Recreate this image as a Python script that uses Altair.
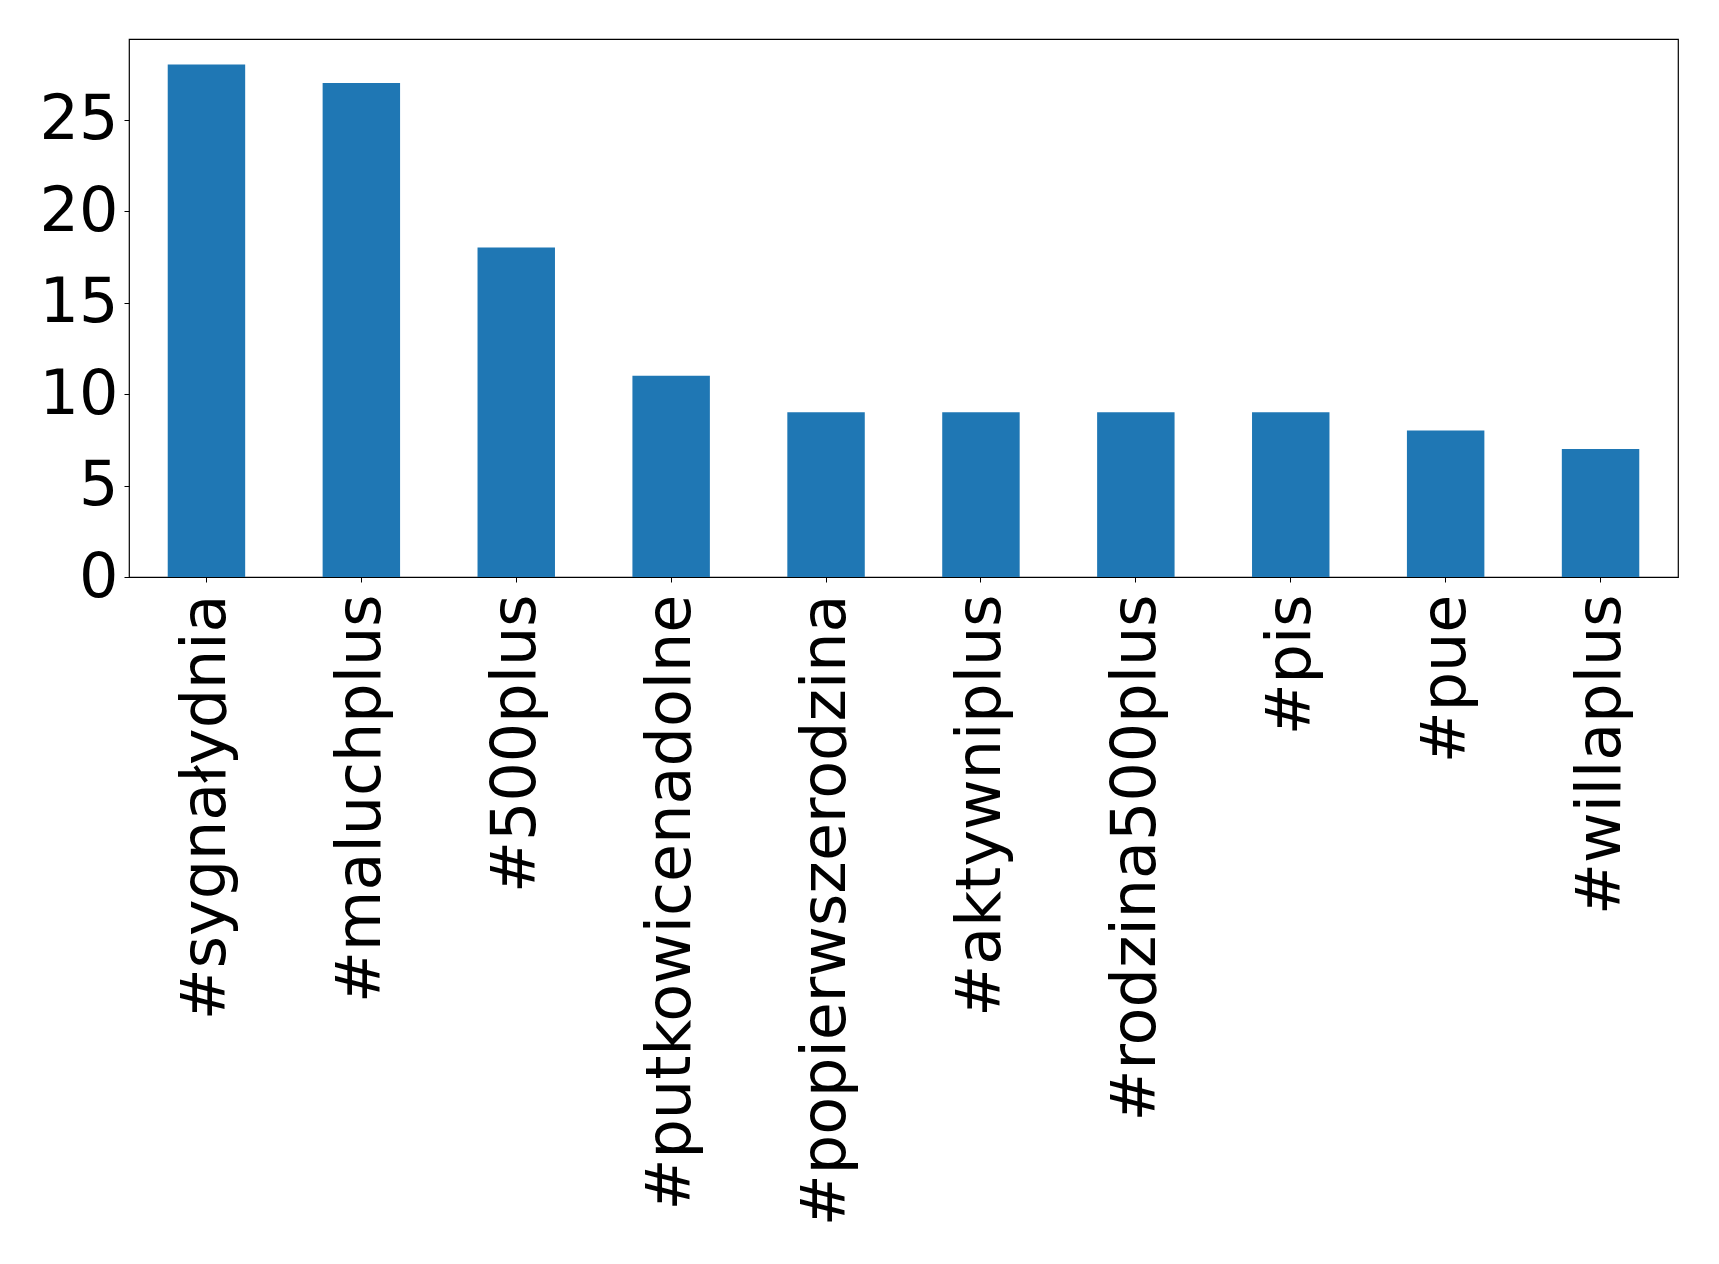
import altair as alt
import pandas as pd

tags = ["#sygnałydnia", "#maluchplus", "#500plus", "#putkowicenadolne",
        "#popierwszerodzina", "#aktywniplus", "#rodzina500plus", "#pis",
        "#pue", "#willaplus"]
counts = [28, 27, 18, 11, 9, 9, 9, 9, 8, 7]
y_ticks = [0, 5, 10, 15, 20, 25]

df = pd.DataFrame({"tag": tags, "count": counts})

chart = alt.Chart(df).mark_bar(color="#1f77b4").encode(
    x=alt.X("tag:N", sort=None, title=None,
            scale=alt.Scale(paddingInner=0.5, paddingOuter=0.25),
            axis=alt.Axis(labelAngle=-90, labelAlign="right", labelBaseline="middle",
                          labelFontSize=62, labelFont="DejaVu Sans", labelColor="black",
                          labelPadding=12, tickSize=5, tickColor="black", domain=False,
                          labelOverlap=False, labelLimit=0)),
    y=alt.Y("count:Q", title=None,
            scale=alt.Scale(domain=[0, 29.4], nice=False, zero=True),
            axis=alt.Axis(values=y_ticks, grid=False, labelFontSize=62,
                          labelFont="DejaVu Sans", labelColor="black", labelPadding=6,
                          tickSize=5, tickColor="black", domain=False)),
).properties(
    width=1549, height=538,
    autosize=alt.AutoSizeParams(type="none"),
    padding={"left": 121, "top": 31, "right": 30, "bottom": 660},
).configure_view(stroke="black", strokeWidth=1.2)

chart.save("out.html", embed_options={"renderer": "svg", "actions": False})
